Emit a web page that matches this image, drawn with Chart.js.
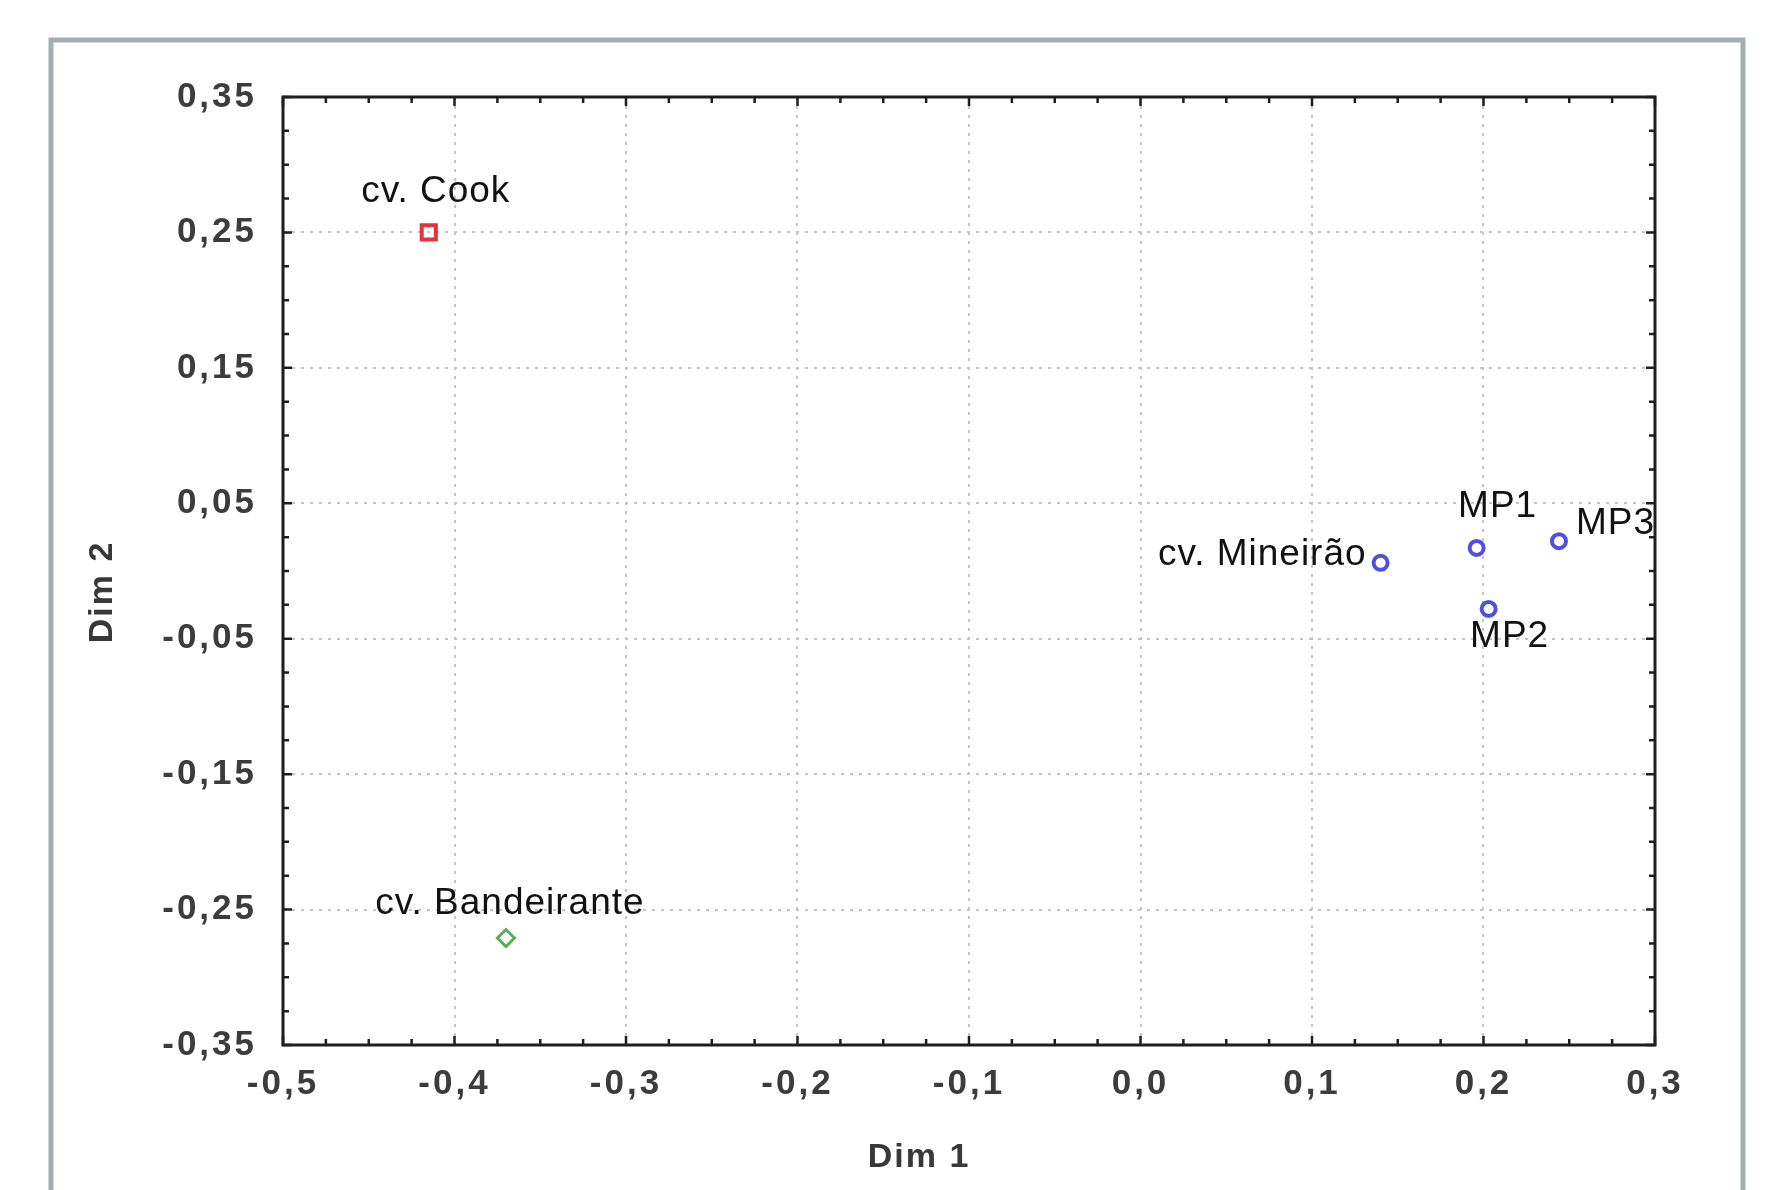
<!DOCTYPE html>
<html>
<head>
<meta charset="utf-8">
<script src="https://cdn.jsdelivr.net/npm/chart.js@4.4.1/dist/chart.umd.min.js"></script>
<style>
    html, body { margin: 0; padding: 0; background: #fff; }
</style>
</head>
<body>
<canvas id="mdsChart" width="1777" height="1190"></canvas>
<script>
// data
const names = ['cv. Cook', 'cv. Bandeirante', 'cv. Mineirão', 'MP1', 'MP2', 'MP3'];
const dim1 = [-0.415, -0.370, 0.140, 0.196, 0.203, 0.244];
const dim2 = [0.250, -0.271, 0.006, 0.017, -0.028, 0.022];

const xTicks = [-0.5, -0.4, -0.3, -0.2, -0.1, 0.0, 0.1, 0.2, 0.3];
const xTickLabels = ['-0,5', '-0,4', '-0,3', '-0,2', '-0,1', '0,0', '0,1', '0,2', '0,3'];
const yTicks = [-0.35, -0.25, -0.15, -0.05, 0.05, 0.15, 0.25, 0.35];
const yTickLabels = ['-0,35', '-0,25', '-0,15', '-0,05', '0,05', '0,15', '0,25', '0,35'];

const xTitle = 'Dim 1';
const yTitle = 'Dim 2';

// marker and label styling per point
const pointStyles = ['rect', 'rectRot', 'circle', 'circle', 'circle', 'circle'];
const pointColors = ['#e3333b', '#5aae5a', '#4f4fe6', '#4f4fe6', '#4f4fe6', '#4f4fe6'];
const pointSizes = [10, 8.5, 7, 7, 7, 7];
const pointBorders = [4, 3, 4, 4, 4, 4];
const labelOffsets = [
    { dx: 7, dy: -41, align: 'center' },
    { dx: 4, dy: -34, align: 'center' },
    { dx: -14, dy: -8, align: 'right' },
    { dx: 21, dy: -41, align: 'center' },
    { dx: 21, dy: 28, align: 'center' },
    { dx: 17, dy: -17, align: 'left' }
];

const tickFont = { family: 'Liberation Sans', size: 35, weight: 'bold' };

const decorPlugin = {
    id: 'decor',
    beforeDraw(chart) {
        const ctx = chart.ctx;
        ctx.letterSpacing = '3px';
        ctx.save();
        ctx.strokeStyle = '#a3afae';
        ctx.lineWidth = 5;
        ctx.strokeRect(51, 40, 1692, 1300);
        ctx.restore();
    },
    afterDatasetsDraw(chart) {
        const ctx = chart.ctx;
        const meta = chart.getDatasetMeta(0);

        ctx.save();
        ctx.letterSpacing = '1px';
        ctx.font = '37px "Liberation Sans"';
        ctx.fillStyle = '#111';
        ctx.textBaseline = 'middle';
        meta.data.forEach((pt, i) => {
            const o = labelOffsets[i];
            ctx.textAlign = o.align;
            ctx.fillText(names[i], pt.x + o.dx, pt.y + o.dy);
        });
        ctx.restore();
    },
    afterDraw(chart) {
        const { ctx, chartArea: a, scales: { x, y } } = chart;

        ctx.save();
        ctx.strokeStyle = '#1e1e1e';
        ctx.lineWidth = 2.5;

        const marks = (ticks, draw) => {
            for (let i = 0; i < ticks.length; i++) {
                draw(ticks[i], 9);
                if (i < ticks.length - 1) {
                    const step = (ticks[i + 1] - ticks[i]) / 4;
                    for (let k = 1; k < 4; k++)
                        draw(ticks[i] + step * k, 6);
                }
            }
        };

        ctx.beginPath();
        marks(xTicks, (v, len) => {
            const px = x.getPixelForValue(v);
            ctx.moveTo(px, a.bottom);
            ctx.lineTo(px, a.bottom - len);
            ctx.moveTo(px, a.top);
            ctx.lineTo(px, a.top + len);
        });
        marks(yTicks, (v, len) => {
            const py = y.getPixelForValue(v);
            ctx.moveTo(a.left, py);
            ctx.lineTo(a.left + len, py);
            ctx.moveTo(a.right, py);
            ctx.lineTo(a.right - len, py);
        });
        ctx.stroke();

        ctx.lineWidth = 3;
        ctx.strokeRect(a.left, a.top, a.right - a.left, a.bottom - a.top);

        // axis titles, placed as in the picture (not centred on the plot)
        ctx.letterSpacing = '2px';
        ctx.font = 'bold 34px "Liberation Sans"';
        ctx.fillStyle = '#383838';
        ctx.textAlign = 'center';
        ctx.textBaseline = 'middle';
        ctx.fillText(xTitle, 919, 1158);
        ctx.translate(103, 592);
        ctx.rotate(-Math.PI / 2);
        ctx.fillText(yTitle, 0, 0);
        ctx.restore();
    }
};

new Chart(document.getElementById('mdsChart').getContext('2d'), {
    type: 'scatter',
    data: {
        datasets: [
            {
                data: names.map((n, i) => ({ x: dim1[i], y: dim2[i] })),
                pointStyle: pointStyles,
                borderColor: pointColors,
                backgroundColor: 'rgba(0,0,0,0)',
                pointRadius: pointSizes,
                borderWidth: pointBorders,
                clip: false
            }
        ]
    },
    options: {
        responsive: false,
        animation: false,
        devicePixelRatio: 1,
        layout: {
            padding: { top: 97, right: 122, left: 0, bottom: 0 }
        },
        plugins: {
            legend: { display: false },
            tooltip: { enabled: false }
        },
        scales: {
            x: {
                type: 'linear',
                min: -0.5,
                max: 0.3,
                afterBuildTicks: scale => {
                    scale.ticks = xTicks.map(v => ({ value: v }));
                },
                afterFit: scale => { scale.height = 145; },
                grid: {
                    color: '#c4c4c4',
                    lineWidth: 2,
                    drawTicks: false
                },
                border: { display: false, dash: [3, 6] },
                ticks: {
                    color: '#3c3c3c',
                    font: tickFont,
                    padding: 18,
                    maxRotation: 0,
                    autoSkip: false,
                    callback: (v, i) => xTickLabels[i]
                }
            },
            y: {
                type: 'linear',
                min: -0.35,
                max: 0.35,
                afterBuildTicks: scale => {
                    scale.ticks = yTicks.map(v => ({ value: v }));
                },
                afterFit: scale => { scale.width = 283; },
                grid: {
                    color: '#c4c4c4',
                    lineWidth: 2,
                    drawTicks: false
                },
                border: { display: false, dash: [3, 6] },
                ticks: {
                    color: '#3c3c3c',
                    font: tickFont,
                    padding: 26,
                    autoSkip: false,
                    callback: (v, i) => yTickLabels[i]
                }
            }
        }
    },
    plugins: [decorPlugin]
});
</script>
</body>
</html>
